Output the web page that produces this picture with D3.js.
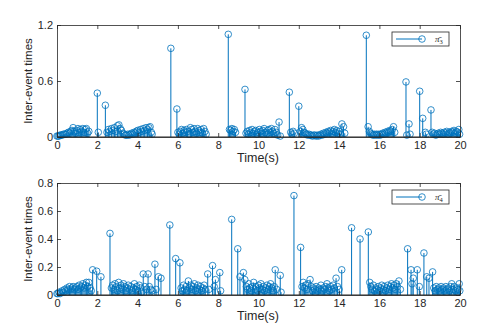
<!DOCTYPE html>
<html>
<head>
<meta charset="utf-8">
<script src="https://cdn.jsdelivr.net/npm/d3@7"></script>
<style>
body { margin: 0; background: #fff; }
text { font-family: "Liberation Sans", Arial, sans-serif; fill: #262626; }
</style>
</head>
<body>
<script>
// agent 3 : event times (s) and inter-event times
var time3 = [0.00,0.05,0.10,0.15,0.20,0.26,0.32,0.38,0.44,0.50,0.56,0.62,0.68,0.74,0.80,0.86,0.92,0.98,1.04,1.10,1.16,1.22,1.28,1.34,1.40,1.46,1.52,1.58,
  2.00,2.05,2.40,
  2.48,2.55,2.62,2.70,2.78,2.85,2.92,3.00,3.07,3.14,3.20,3.27,3.33,3.40,3.46,3.52,3.58,3.64,3.70,3.76,3.82,3.88,3.94,4.00,4.07,4.14,4.21,4.28,4.35,4.42,4.49,4.56,4.62,4.68,4.72,
  5.65,5.95,
  6.00,6.06,6.12,6.18,6.24,6.30,6.36,6.42,6.48,6.55,6.62,6.68,6.74,6.80,6.86,6.92,6.98,7.04,7.10,7.16,7.22,7.28,7.34,7.40,
  8.50,8.56,8.62,8.68,8.74,8.80,8.86,
  9.33,9.38,9.44,9.50,9.56,9.62,9.68,9.74,9.80,9.86,9.92,9.98,10.04,10.10,10.16,10.22,10.28,10.34,10.40,10.46,10.52,10.58,10.64,10.70,10.76,10.82,10.88,10.95,11.02,11.08,
  11.53,11.60,11.66,11.72,11.78,12.00,
  12.08,12.14,12.20,12.26,12.32,12.38,12.44,12.50,12.56,12.62,12.68,12.74,12.80,12.86,12.92,12.98,13.04,13.10,13.16,13.22,13.28,13.34,13.40,13.46,13.52,13.58,13.64,13.70,13.76,13.82,13.88,13.94,14.00,14.06,14.14,14.22,14.28,
  15.35,
  15.44,15.50,15.56,15.62,15.68,15.74,15.80,15.86,15.92,15.98,16.04,16.10,16.16,16.22,16.28,16.34,16.40,16.46,16.52,16.58,16.64,16.70,16.76,
  17.32,17.36,17.47,17.52,18.00,18.15,18.28,18.33,18.56,
  18.62,18.68,18.74,18.80,18.86,18.92,18.98,19.04,19.10,19.16,19.22,19.28,19.34,19.40,19.46,19.52,19.58,19.64,19.70,19.76,19.82,19.88,19.94,19.98];
var gap3 = [0.01,0.01,0.01,0.02,0.02,0.02,0.03,0.03,0.03,0.04,0.05,0.04,0.06,0.07,0.10,0.06,0.04,0.07,0.09,0.05,0.08,0.06,0.09,0.05,0.08,0.09,0.04,0.06,
  0.47,0.05,0.34,
  0.05,0.08,0.06,0.09,0.07,0.10,0.06,0.12,0.13,0.09,0.07,0.04,0.03,0.02,0.02,0.03,0.02,0.03,0.04,0.03,0.05,0.04,0.06,0.07,0.05,0.08,0.06,0.09,0.07,0.10,0.08,0.10,0.11,0.05,0.03,
  0.95,0.30,
  0.05,0.03,0.06,0.08,0.04,0.07,0.05,0.08,0.06,0.03,0.10,0.08,0.05,0.09,0.06,0.04,0.09,0.07,0.05,0.08,0.04,0.09,0.06,0.03,
  1.10,0.08,0.07,0.09,0.06,0.08,0.05,
  0.51,0.04,0.06,0.03,0.07,0.05,0.08,0.04,0.06,0.07,0.03,0.05,0.08,0.06,0.04,0.07,0.09,0.05,0.03,0.07,0.08,0.05,0.09,0.06,0.04,0.08,0.05,0.02,0.16,0.01,
  0.48,0.05,0.03,0.06,0.04,0.33,
  0.06,0.10,0.08,0.05,0.04,0.03,0.02,0.03,0.02,0.02,0.01,0.02,0.02,0.01,0.02,0.01,0.02,0.03,0.02,0.04,0.03,0.05,0.04,0.06,0.05,0.07,0.04,0.06,0.08,0.05,0.07,0.04,0.06,0.03,0.14,0.11,0.04,
  1.09,
  0.11,0.06,0.04,0.03,0.02,0.03,0.02,0.03,0.02,0.03,0.02,0.03,0.04,0.03,0.05,0.04,0.06,0.05,0.07,0.06,0.08,0.11,0.05,
  0.59,0.02,0.14,0.03,0.49,0.20,0.05,0.03,0.29,
  0.05,0.03,0.04,0.02,0.03,0.04,0.03,0.05,0.04,0.03,0.05,0.04,0.06,0.03,0.05,0.04,0.06,0.05,0.07,0.04,0.06,0.05,0.08,0.03];

// agent 4
var time4 = [0.00,0.05,0.10,0.15,0.20,0.26,0.32,0.38,0.44,0.50,0.56,0.62,0.68,0.74,0.80,0.86,0.92,0.98,1.04,1.10,1.16,1.22,1.28,1.34,1.40,1.46,1.52,1.58,1.64,1.70,
  1.77,1.97,2.18,2.63,
  2.70,2.76,2.82,2.88,2.94,3.00,3.06,3.12,3.18,3.24,3.30,3.36,3.42,3.48,3.54,3.60,3.66,3.72,3.78,3.84,3.90,3.96,4.02,4.08,4.14,4.20,
  4.28,4.36,4.44,4.52,4.58,4.66,4.72,4.86,4.92,5.03,5.16,
  5.60,5.89,6.10,
  6.16,6.22,6.28,6.34,6.40,6.46,6.52,6.58,6.64,6.70,6.76,6.82,6.88,6.94,7.00,7.06,7.12,7.18,7.24,7.30,7.36,
  7.48,7.54,7.72,7.80,7.86,8.08,8.12,
  8.67,8.97,9.08,9.25,9.32,
  9.40,9.46,9.52,9.58,9.64,9.70,9.76,9.82,9.88,9.94,10.00,10.06,10.12,10.18,10.24,10.30,10.36,10.42,10.48,10.54,10.60,10.66,10.72,10.78,
  10.83,10.90,11.08,11.12,11.76,12.09,
  12.16,12.22,12.28,12.34,12.40,12.46,12.56,12.62,12.68,12.74,12.80,12.86,12.92,12.98,13.04,13.10,13.16,13.22,13.28,13.34,13.40,13.46,13.52,13.58,13.64,13.70,13.76,13.85,13.92,14.00,
  14.13,14.62,15.04,15.45,15.52,
  15.58,15.64,15.70,15.76,15.82,15.88,15.94,16.00,16.06,16.12,16.18,16.24,16.30,16.36,16.42,16.48,16.54,16.60,16.66,16.72,16.78,16.84,16.90,16.97,17.04,
  17.40,17.57,17.62,17.68,17.88,17.98,18.21,18.35,18.46,18.64,
  18.70,18.76,18.82,18.88,18.94,19.00,19.06,19.12,19.18,19.24,19.30,19.36,19.42,19.48,19.54,19.59,19.66,19.72,19.78,19.84,19.90,19.96,19.99];
var gap4 = [0.01,0.01,0.02,0.01,0.02,0.03,0.02,0.04,0.03,0.05,0.04,0.06,0.04,0.05,0.06,0.04,0.05,0.06,0.04,0.07,0.05,0.06,0.08,0.05,0.07,0.09,0.06,0.09,0.05,0.03,
  0.18,0.17,0.13,0.44,
  0.05,0.07,0.04,0.08,0.06,0.03,0.09,0.05,0.07,0.04,0.08,0.06,0.03,0.05,0.07,0.04,0.06,0.03,0.05,0.08,0.04,0.06,0.03,0.07,0.05,0.02,
  0.15,0.06,0.04,0.15,0.06,0.04,0.03,0.22,0.04,0.13,0.12,
  0.50,0.26,0.23,
  0.05,0.03,0.07,0.04,0.06,0.03,0.10,0.05,0.07,0.04,0.06,0.08,0.03,0.05,0.07,0.04,0.06,0.03,0.05,0.07,0.04,
  0.15,0.04,0.21,0.06,0.11,0.16,0.03,
  0.54,0.33,0.13,0.16,0.11,
  0.06,0.04,0.08,0.05,0.03,0.06,0.09,0.04,0.06,0.03,0.07,0.05,0.08,0.04,0.06,0.03,0.05,0.07,0.04,0.06,0.08,0.05,0.03,0.06,
  0.18,0.04,0.14,0.02,0.71,0.34,
  0.06,0.09,0.05,0.07,0.04,0.08,0.11,0.06,0.03,0.05,0.04,0.06,0.03,0.05,0.04,0.07,0.03,0.05,0.04,0.06,0.08,0.05,0.03,0.06,0.04,0.07,0.05,0.12,0.06,0.04,
  0.18,0.48,0.40,0.45,0.09,
  0.06,0.04,0.07,0.03,0.05,0.04,0.06,0.03,0.05,0.07,0.04,0.06,0.03,0.05,0.07,0.04,0.06,0.08,0.05,0.07,0.04,0.08,0.06,0.10,0.04,
  0.33,0.18,0.08,0.12,0.18,0.06,0.30,0.13,0.12,0.165,
  0.05,0.03,0.06,0.04,0.05,0.03,0.06,0.04,0.05,0.03,0.06,0.04,0.05,0.03,0.06,0.08,0.04,0.06,0.03,0.05,0.04,0.08,0.03];

var xTicks = [0,2,4,6,8,10,12,14,16,18,20];
var yTicks3 = [0,0.6,1.2];
var yTicks4 = [0,0.2,0.4,0.6,0.8];

var blue = "#0072BD";
var dark = "#262626";

var width = 502, height = 328;
var svg = d3.select("body").append("svg").attr("width",width).attr("height",height);

var x = d3.scaleLinear().domain([0,20]).range([57,460]);

function panel(times, gaps, yMax, yTicks, top, bottom, sub){
	var y = d3.scaleLinear().domain([0,yMax]).range([bottom,top]);
	var g = svg.append("g");

	var pts = times.map(function(t,i){ return {t:t, v:gaps[i]}; });

	g.selectAll("line.stem")
		.data(pts)
		.enter().append("line")
			.attr("class","stem")
			.attr("x1",function(d){ return x(d.t); })
			.attr("x2",function(d){ return x(d.t); })
			.attr("y1",y(0))
			.attr("y2",function(d){ return y(d.v); })
			.attr("stroke",blue)
			.attr("stroke-width",1);

	g.selectAll("circle")
		.data(pts)
		.enter().append("circle")
			.attr("cx",function(d){ return x(d.t); })
			.attr("cy",function(d){ return y(d.v); })
			.attr("r",3.3)
			.attr("fill","none")
			.attr("stroke",blue)
			.attr("stroke-width",0.8);

	// box with inward ticks on all four sides
	var ax = [
		[d3.axisBottom(x).tickValues(xTicks).tickFormat(d3.format("d")), "translate(0,"+bottom+")", 4],
		[d3.axisTop(x).tickValues(xTicks).tickFormat(""), "translate(0,"+top+")", 4],
		[d3.axisLeft(y).tickValues(yTicks).tickFormat(function(d){ return d === 0 ? "0" : d3.format(".1f")(d); }), "translate(57,0)", 4],
		[d3.axisRight(y).tickValues(yTicks).tickFormat(""), "translate(460,0)", 4]
	];
	ax.forEach(function(a){
		var ag = g.append("g").attr("transform",a[1])
			.call(a[0].tickSize(-4).tickSizeOuter(0).tickPadding(a[2]));
		ag.select(".domain").attr("stroke",dark).attr("stroke-width",0.8);
		ag.selectAll(".tick line").attr("stroke",dark).attr("stroke-width",0.8);
		ag.selectAll("text").attr("font-size",11).attr("fill",dark)
			.style("font-family","'Liberation Sans', Arial, sans-serif");
	});

	g.append("line")
		.attr("x1",57).attr("x2",460)
		.attr("y1",y(0)).attr("y2",y(0))
		.attr("stroke",dark).attr("stroke-width",1.2);

	g.append("text")
		.attr("x",258).attr("y",bottom+25)
		.attr("text-anchor","middle")
		.attr("font-size",12.5)
		.text("Time(s)");

	g.append("text")
		.attr("transform","translate(32,"+((top+bottom)/2)+") rotate(-90)")
		.attr("text-anchor","middle")
		.attr("font-size",11.5)
		.text("Inter-event times");

	// legend
	var lg = g.append("g").attr("transform","translate(392,"+(top+7)+")");
	lg.append("rect").attr("x",0).attr("y",0).attr("width",57).attr("height",14)
		.attr("fill","#fff").attr("stroke",dark).attr("stroke-width",0.8);
	lg.append("line").attr("x1",4).attr("x2",30).attr("y1",7).attr("y2",7)
		.attr("stroke",blue).attr("stroke-width",1);
	lg.append("circle").attr("cx",30).attr("cy",7).attr("r",3.3)
		.attr("fill","none").attr("stroke",blue).attr("stroke-width",0.8);
	var lt = lg.append("text").attr("x",43).attr("y",10)
		.attr("font-size",9)
		.style("font-family","'Liberation Serif', 'DejaVu Serif', serif")
		.style("font-style","italic");
	lt.append("tspan").text("\u03C0\u0304");
	lt.append("tspan").attr("dy",2).attr("font-size",6.5).style("font-style","normal").text(sub);
}

panel(time3, gap3, 1.2, yTicks3, 25, 137, "3");
panel(time4, gap4, 0.8, yTicks4, 183, 295, "4");
</script>
</body>
</html>
